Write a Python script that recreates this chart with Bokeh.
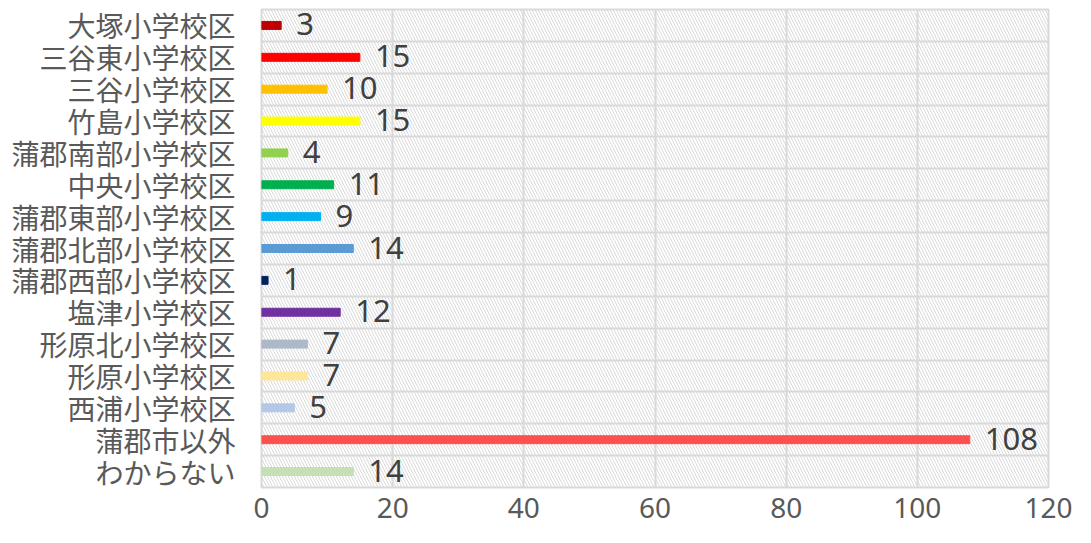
from bokeh.plotting import figure
from bokeh.models import ColumnDataSource, FixedTicker, BoxAnnotation, LabelSet
from bokeh.core.properties import value
from bokeh.embed import file_html
from bokeh.resources import INLINE

categories = ["大塚小学校区", "三谷東小学校区", "三谷小学校区", "竹島小学校区", "蒲郡南部小学校区",
              "中央小学校区", "蒲郡東部小学校区", "蒲郡北部小学校区", "蒲郡西部小学校区", "塩津小学校区",
              "形原北小学校区", "形原小学校区", "西浦小学校区", "蒲郡市以外", "わからない"]
values = [3, 15, 10, 15, 4, 11, 9, 14, 1, 12, 7, 7, 5, 108, 14]
colors = ["#C00000", "#FF0000", "#FFC000", "#FFFF00", "#92D050", "#00B050", "#00B0F0", "#5B9BD5",
          "#002060", "#7030A0", "#ADB9CA", "#FFE699", "#B4C7E7", "#FF5050", "#C5E0B4"]
x_ticks = [0, 20, 40, 60, 80, 100, 120]

n = len(categories)
ypos = [n - 1 - i for i in range(n)]
src = ColumnDataSource(dict(y=ypos, v=values, c=colors, lab=[str(v) for v in values]))

CJK = "Noto Sans CJK JP"
NUM = "Noto Sans"
p = figure(width=1075, height=527, output_backend="svg", toolbar_location=None,
           x_range=(0, 120), y_range=(-0.5, n - 0.5),
           min_border_left=261, min_border_right=27, min_border_top=9, min_border_bottom=40)

p.add_layout(BoxAnnotation(fill_alpha=0, line_alpha=0, hatch_pattern="left_diagonal_line",
                           hatch_color="#D9D9D9", hatch_scale=6, hatch_weight=1, level="underlay"))

p.hbar(y="y", right="v", left=0, height=0.25, color="c", source=src)
p.add_layout(LabelSet(x="v", y="y", text="lab", source=src, x_offset=15, y_offset=1,
                      text_align="left", text_baseline="middle", text_font=value(NUM),
                      text_font_size="31px", text_color="#404040"))

p.outline_line_color = "#D9D9D9"
p.outline_line_width = 2

p.xaxis.ticker = FixedTicker(ticks=x_ticks)
p.yaxis.ticker = FixedTicker(ticks=ypos)
p.yaxis.major_label_overrides = {y: c for y, c in zip(ypos, categories)}
for ax in (p.xaxis, p.yaxis):
    ax.axis_line_color = None
    ax.major_tick_line_color = None
    ax.minor_tick_line_color = None
    ax.major_label_text_color = "#595959"
p.xaxis.major_label_text_font = NUM
p.yaxis.major_label_text_font = CJK
p.xaxis.major_label_text_font_size = "28px"
p.yaxis.major_label_text_font_size = "28px"
p.xaxis.major_label_standoff = 4
p.yaxis.major_label_standoff = 20

p.xgrid.ticker = FixedTicker(ticks=x_ticks)
p.ygrid.ticker = FixedTicker(ticks=[i - 0.5 for i in range(n + 1)])
for g in (p.xgrid, p.ygrid):
    g.grid_line_color = "#D9D9D9"
    g.grid_line_width = 2

open("out.html", "w").write(file_html(p, INLINE))
